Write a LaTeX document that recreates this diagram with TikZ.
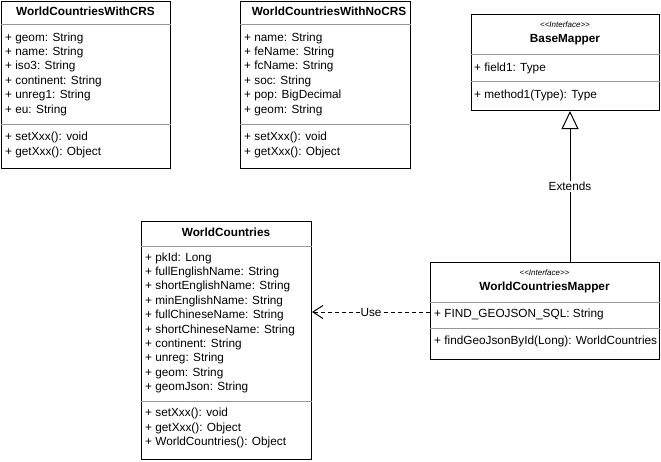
\documentclass[tikz,border=0pt]{standalone}
\usepackage{fontspec}
\setmainfont{Liberation Sans}
\usetikzlibrary{arrows.meta}
\newcommand{\stereotext}[1]{<\kern0pt<#1>\kern0pt>}
\begin{document}
\begin{tikzpicture}[x=1pt,y=-1pt,
  every node/.style={font=\fontsize{11.8}{14}\selectfont, inner sep=0pt, text=black},
  umlbox/.style={draw=black, line width=1pt, fill=white, anchor=north west},
  sepline/.style={draw={rgb,255:red,150;green,150;blue,150}, line width=1pt},
  row/.style={anchor=west},
  title/.style={font=\fontsize{11.8}{14}\selectfont\bfseries},
  stereo/.style={font=\fontsize{8}{9.6}\selectfont\itshape},
  lbl/.style={fill=white, inner sep=1pt}
]
\useasboundingbox (0,0) rectangle (661,461);

% Box 1: WorldCountriesWithCRS
\node[umlbox, minimum width=169pt, minimum height=167pt] (crs) at (1,1) {};
\draw[sepline] ([yshift=-23pt]crs.north west) -- ([yshift=-23pt]crs.north east);
\draw[sepline] ([yshift=-123pt]crs.north west) -- ([yshift=-123pt]crs.north east);
\node[title] (crsT) at (85.5,11) {WorldCountriesWithCRS};
\node[row] (crs1) at (5,38) {+ geom: String};
\node[row] (crs2) at (5,52.4) {+ name: String};
\node[row] (crs3) at (5,66.8) {+ iso3: String};
\node[row] (crs4) at (5,81.2) {+ continent: String};
\node[row] (crs5) at (5,95.6) {+ unreg1: String};
\node[row] (crs6) at (5,110) {+ eu: String};
\node[row] (crs7) at (5,137.5) {+ setXxx(): void};
\node[row] (crs8) at (5,152) {+ getXxx(): Object};

% Box 2: WorldCountriesWithNoCRS
\node[umlbox, minimum width=170pt, minimum height=167pt] (ncrs) at (240,1) {};
\draw[sepline] ([yshift=-23pt]ncrs.north west) -- ([yshift=-23pt]ncrs.north east);
\draw[sepline] ([yshift=-123pt]ncrs.north west) -- ([yshift=-123pt]ncrs.north east);
\node[title] (ncrsT) at (329,11) {WorldCountriesWithNoCRS};
\node[row] (n1) at (244,38) {+ name: String};
\node[row] (n2) at (244,52.4) {+ feName: String};
\node[row] (n3) at (244,66.8) {+ fcName: String};
\node[row] (n4) at (244,81.2) {+ soc: String};
\node[row] (n5) at (244,95.6) {+ pop: BigDecimal};
\node[row] (n6) at (244,110) {+ geom: String};
\node[row] (n7) at (244,137.5) {+ setXxx(): void};
\node[row] (n8) at (244,152) {+ getXxx(): Object};

% Box 3: BaseMapper
\node[umlbox, minimum width=188pt, minimum height=96pt] (base) at (471,14) {};
\draw[sepline] ([yshift=-40pt]base.north west) -- ([yshift=-40pt]base.north east);
\draw[sepline] ([yshift=-67pt]base.north west) -- ([yshift=-67pt]base.north east);
\node[stereo] (baseS) at (565,25) {\stereotext{Interface}};
\node[title] (baseT) at (565,40) {BaseMapper};
\node[row] (b1) at (474,68) {+ field1: Type};
\node[row] (b2) at (474,95) {+ method1(Type): Type};

% Box 4: WorldCountriesMapper
\node[umlbox, minimum width=229pt, minimum height=97pt] (mapper) at (430,262) {};
\draw[sepline] ([yshift=-40pt]mapper.north west) -- ([yshift=-40pt]mapper.north east);
\draw[sepline] ([yshift=-66pt]mapper.north west) -- ([yshift=-66pt]mapper.north east);
\node[stereo] (mapS) at (544.5,273) {\stereotext{Interface}};
\node[title] (mapT) at (544.5,287) {WorldCountriesMapper};
\node[row] (m1) at (434,314) {+ FIND\_GEOJSON\_SQL: String};
\node[row] (m2) at (434,341) {+ findGeoJsonById(Long): WorldCountries};

% Box 5: WorldCountries
\node[umlbox, minimum width=170pt, minimum height=238pt] (wc) at (141,221) {};
\draw[sepline] ([yshift=-25pt]wc.north west) -- ([yshift=-25pt]wc.north east);
\draw[sepline] ([yshift=-180pt]wc.north west) -- ([yshift=-180pt]wc.north east);
\node[title] (wcT) at (226,232) {WorldCountries};
\node[row] (w1) at (145,258) {+ pkId: Long};
\node[row] (w2) at (145,272.4) {+ fullEnglishName: String};
\node[row] (w3) at (145,286.8) {+ shortEnglishName: String};
\node[row] (w4) at (145,301.2) {+ minEnglishName: String};
\node[row] (w5) at (145,315.6) {+ fullChineseName: String};
\node[row] (w6) at (145,330) {+ shortChineseName: String};
\node[row] (w7) at (145,344.4) {+ continent: String};
\node[row] (w8) at (145,358.8) {+ unreg: String};
\node[row] (w9) at (145,373.2) {+ geom: String};
\node[row] (w10) at (145,387.6) {+ geomJson: String};
\node[row] (w11) at (145,413.5) {+ setXxx(): void};
\node[row] (w12) at (145,428) {+ getXxx(): Object};
\node[row] (w13) at (145,442.5) {+ WorldCountries(): Object};

% Connectors
\coordinate (exx) at (570,0);
\draw[line width=1pt, -{Triangle[open, length=18pt, width=17pt, line width=1pt]}]
  (mapper.north -| exx) -- (base.south -| exx)
  node[midway, lbl] {Extends};

\coordinate (usey) at (0,312);
\draw[line width=1pt, dash pattern=on 4pt off 3pt,
      -{Straight Barb[length=10pt, width=13pt, line width=1pt]}]
  (mapper.west |- usey) -- (wc.east |- usey)
  node[midway, lbl] {Use};
\end{tikzpicture}
\end{document}
